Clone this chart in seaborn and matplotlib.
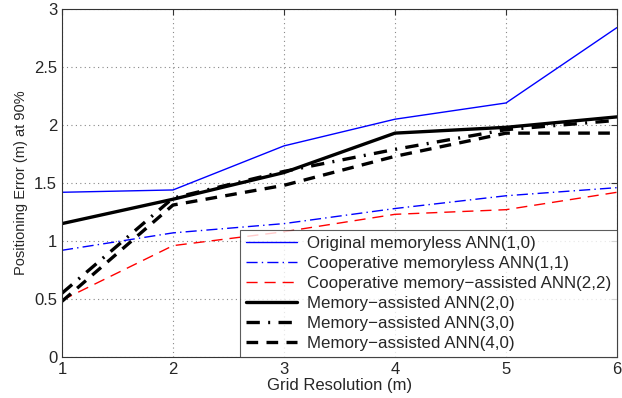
import matplotlib
matplotlib.use("Agg")
import matplotlib.pyplot as plt
import seaborn as sns
import pandas as pd

grid_res = [1, 2, 3, 4, 5, 6]
orig_mem_1_0 = [1.42, 1.44, 1.82, 2.05, 2.19, 2.84]
coop_mem_1_1 = [0.92, 1.07, 1.15, 1.28, 1.39, 1.46]
coop_memassist_2_2 = [0.49, 0.96, 1.08, 1.23, 1.27, 1.42]
memassist_2_0 = [1.15, 1.36, 1.59, 1.93, 1.98, 2.07]
memassist_3_0 = [0.55, 1.37, 1.60, 1.79, 1.96, 2.04]
memassist_4_0 = [0.48, 1.31, 1.48, 1.73, 1.93, 1.93]

labels = ["Original memoryless ANN(1,0)",
          "Cooperative memoryless ANN(1,1)",
          "Cooperative memory\u2212assisted ANN(2,2)",
          "Memory\u2212assisted ANN(2,0)",
          "Memory\u2212assisted ANN(3,0)",
          "Memory\u2212assisted ANN(4,0)"]
series = [orig_mem_1_0, coop_mem_1_1, coop_memassist_2_2,
          memassist_2_0, memassist_3_0, memassist_4_0]

styles = [
    dict(color="#0000ff", lw=1.0, ls="-"),
    dict(color="#0000ff", lw=1.0, ls=(0, (8, 3, 1, 3))),
    dict(color="#ff0000", lw=1.0, ls=(0, (8, 5))),
    dict(color="black", lw=2.4, ls="-"),
    dict(color="black", lw=2.4, ls=(0, (4, 2.5, 0.6, 2.5))),
    dict(color="black", lw=2.4, ls=(0, (3.5, 2.5))),
]

sns.set_style("white")
plt.rcParams['font.family'] = ['Liberation Sans', 'DejaVu Sans']

fig = plt.figure(figsize=(6.22, 3.98), dpi=100)
ax = fig.add_axes([62/622, 1 - 357/398, (617-62)/622, (357-9)/398])

for lab, vals, st in zip(labels, series, styles):
    df = pd.DataFrame({"x": grid_res, "y": vals})
    sns.lineplot(data=df, x="x", y="y", ax=ax, label=lab,
                 color=st["color"], linewidth=st["lw"], linestyle=st["ls"])

ax.set_xlim(1, 6)
ax.set_ylim(0, 3)
ax.set_xticks([1, 2, 3, 4, 5, 6])
ax.set_yticks([0, 0.5, 1, 1.5, 2, 2.5, 3])
ax.set_yticklabels(["0", "0.5", "1", "1.5", "2", "2.5", "3"])
ax.grid(True, linestyle=(0, (1, 3)), color="#888888", linewidth=0.8)
ax.tick_params(direction="in", top=True, right=True, length=4, labelsize=12,
               color="#333333")
for s in ax.spines.values():
    s.set_color("#333333")
    s.set_linewidth(0.8)
ax.set_xlabel("Grid Resolution (m)", fontsize=12, labelpad=1)
ax.set_ylabel("Positioning Error (m) at 90%", fontsize=10.5, labelpad=4)

leg = ax.legend(loc="lower right", fontsize=12.2, frameon=True, fancybox=False,
                borderaxespad=0, handlelength=3.0, labelspacing=0.3,
                borderpad=0.35, handletextpad=0.6)
leg.get_frame().set_edgecolor("#333333")
leg.get_frame().set_linewidth(0.8)

fig.savefig("out.png", dpi=100)
